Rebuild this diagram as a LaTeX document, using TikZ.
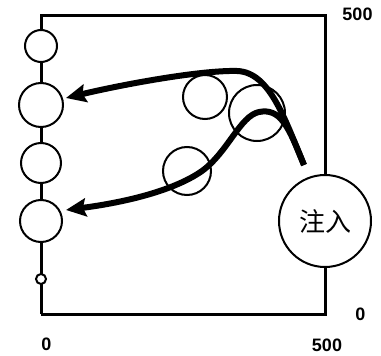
\documentclass[tikz,border=0pt]{standalone}
\usepackage{fontspec}
\setmainfont{Liberation Sans}
\newfontfamily\cjk{Noto Sans CJK SC}
\usetikzlibrary{arrows.meta}
\begin{document}
\begin{tikzpicture}[x=1pt,y=-1pt,
  frame/.style={line width=3pt,line join=miter},
  ring/.style={circle,draw,line width=2pt,inner sep=0pt,minimum size=#1},
  wring/.style={ring=#1,fill=white},
  flow/.style={line width=6pt,-{Stealth[length=20pt,width=18pt,inset=3pt]}},
  lab/.style={font=\bfseries\fontsize{18}{18}\selectfont,inner sep=0pt}]
\useasboundingbox (0,0) rectangle (381,356);
% frame
\coordinate (tl) at (41,15);
\coordinate (tr) at (325,15);
\coordinate (br) at (325,314);
\coordinate (bl) at (41,314);
\draw[frame] (bl) -- (tl) -- (tr) -- (br) -- (bl);
% left column
\node[wring=32pt] (c1) at (41,46) {};
\node[wring=44pt] (c2) at (41,105) {};
\node[wring=40pt] (c3) at (41,163) {};
\node[wring=42pt] (c4) at (41,221) {};
\node[wring=10pt] (c5) at (41,279) {};
% middle circles
\node[ring=44pt] (ma) at (205,97) {};
\node[ring=56pt] (mb) at (257,113) {};
\node[ring=48pt] (mc) at (187,171) {};
% injection
\node[wring=92pt,font=\cjk\fontsize{26}{26}\selectfont] (inj) at (325,221) {注入};
% flows
\coordinate (s1) at (304,165);
\coordinate (t2) at (66,98);
\coordinate (t4) at (66,210);
\draw[flow] (s1) .. controls (285,120) and (270,72) .. (237,71)
                 .. controls (200,70) and (120,85) .. (t2);
\draw[flow] (s1) .. controls (288,125) and (280,108) .. (259,112)
                 .. controls (240,116) and (228,152) .. (202,171)
                 .. controls (172,192) and (120,203) .. (t4);
% labels
\node[lab] (l1) at (357.5,14) {500};
\node[lab] (l2) at (360.5,314) {0};
\node[lab] (l3) at (327,345) {500};
\node[lab] (l4) at (46.5,344) {0};
\end{tikzpicture}
\end{document}
